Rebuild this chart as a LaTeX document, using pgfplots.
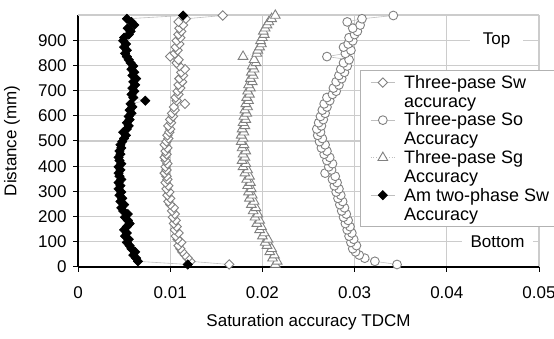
\documentclass[border=0pt]{standalone}
\usepackage{pgfplots}
\pgfplotsset{compat=1.18}
\usepackage{pgfplotstable}
\usepackage{fontspec}
\setmainfont{Liberation Sans}

\pgfplotstableread{
y sw so sg am
10 0.0164 0.0346 0.0214 0.0119
22.5 0.0122 0.0322 0.0216 0.0065
35 0.0119 0.0311 0.0211 0.0063
47.5 0.0116 0.0305 0.0213 0.0060
60 0.0113 0.0301 0.0208 0.0062
72.5 0.0111 0.0298 0.0210 0.0058
85 0.0109 0.0302 0.0205 0.0056
97.5 0.0112 0.0296 0.0203 0.0053
110 0.0108 0.0299 0.0206 0.0055
122.5 0.0106 0.0294 0.0200 0.0051
135 0.0109 0.0297 0.0202 0.0053
147.5 0.0105 0.0292 0.0197 0.0050
160 0.0107 0.0295 0.0199 0.0053
172.5 0.0104 0.0290 0.0194 0.0056
185 0.0106 0.0293 0.0197 0.0054
197.5 0.0103 0.0288 0.0192 0.0051
210 0.0105 0.0291 0.0195 0.0054
222.5 0.0102 0.0286 0.0190 0.0049
235 0.0104 0.0289 0.0193 0.0047
247.5 0.0100 0.0284 0.0188 0.0050
260 0.0098 0.0287 0.0191 0.0046
272.5 0.0100 0.0282 0.0186 0.0048
285 0.0097 0.0285 0.0189 0.0045
297.5 0.0099 0.0280 0.0185 0.0047
310 0.0096 0.0283 0.0188 0.0044
322.5 0.0098 0.0278 0.0184 0.0046
335 0.0095 0.0281 0.0187 0.0044
347.5 0.0097 0.0276 0.0183 0.0047
360 0.0096 0.0279 0.0186 0.0045
372.5 0.0094 0.0268 0.0181 0.0044
385 0.0096 0.0275 0.0184 0.0046
397.5 0.0095 0.0272 0.0179 0.0044
410 0.0097 0.0276 0.0182 0.0047
422.5 0.0095 0.0270 0.0178 0.0045
435 0.0094 0.0273 0.0181 0.0044
447.5 0.0096 0.0267 0.0179 0.0046
460 0.0095 0.0270 0.0182 0.0045
472.5 0.0097 0.0264 0.0178 0.0047
485 0.0094 0.0268 0.0180 0.0046
497.5 0.0096 0.0262 0.0177 0.0048
510 0.0098 0.0265 0.0179 0.0050
522.5 0.0097 0.0260 0.0177 0.0052
535 0.0099 0.0263 0.0180 0.0049
547.5 0.0100 0.0259 0.0178 0.0053
560 0.0098 0.0264 0.0181 0.0055
572.5 0.0101 0.0261 0.0179 0.0053
585 0.0100 0.0266 0.0182 0.0056
597.5 0.0103 0.0263 0.0180 0.0055
610 0.0102 0.0268 0.0183 0.0058
622.5 0.0105 0.0265 0.0181 0.0056
635 0.0104 0.0270 0.0184 0.0059
647.5 0.0116 0.0267 0.0182 0.0057
660 0.0107 0.0273 0.0185 0.0073
672.5 0.0106 0.0270 0.0183 0.0060
685 0.0109 0.0276 0.0186 0.0058
697.5 0.0108 0.0280 0.0184 0.0061
710 0.0111 0.0277 0.0187 0.0059
722.5 0.0109 0.0283 0.0185 0.0062
735 0.0113 0.0280 0.0189 0.0060
747.5 0.0110 0.0286 0.0187 0.0063
760 0.0114 0.0283 0.0190 0.0059
772.5 0.0112 0.0289 0.0188 0.0061
785 0.0116 0.0285 0.0191 0.0058
797.5 0.0110 0.0292 0.0189 0.0060
810 0.0107 0.0288 0.0193 0.0057
822.5 0.0109 0.0294 0.0191 0.0055
835 0.0100 0.0270 0.0179 0.0053
847.5 0.0105 0.0290 0.0194 0.0051
860 0.0108 0.0296 0.0195 0.0053
872.5 0.0106 0.0288 0.0197 0.0050
885 0.0110 0.0293 0.0199 0.0052
897.5 0.0107 0.0298 0.0198 0.0049
910 0.0111 0.0294 0.0200 0.0050
922.5 0.0109 0.0300 0.0202 0.0055
935 0.0112 0.0303 0.0201 0.0057
947.5 0.0110 0.0298 0.0203 0.0054
960 0.0114 0.0306 0.0205 0.0061
972.5 0.0109 0.0292 0.0207 0.0058
985 0.0117 0.0308 0.0210 0.0053
998 0.0157 0.0342 0.0214 0.0114
}\data

\begin{document}
\begin{tikzpicture}[font=\fontsize{17}{19}\selectfont]
\useasboundingbox (0,0) rectangle (554pt,339pt);
\begin{axis}[
  at={(78pt,72pt)}, anchor=south west,
  scale only axis, width=461pt, height=252pt,
  xmin=0, xmax=0.05, ymin=0, ymax=1000,
  scaled x ticks=false,
  axis x line*=bottom, axis y line*=left,
  axis line style={line width=1.4pt, black, -},
  xtick={0,0.01,0.02,0.03,0.04,0.05},
  xticklabels={0,0.01,0.02,0.03,0.04,0.05},
  ytick={0,100,200,300,400,500,600,700,800,900},
  yticklabels={0,100,200,300,400,500,600,700,800,900},
  extra y ticks={1000}, extra y tick labels={},
  extra y tick style={major tick length=0pt, grid=major},
  tick align=outside, major tick length=5pt,
  tick style={black, line width=1pt},
  grid=major, grid style={black!20, line width=1.1pt},
  tick label style={font=\fontsize{17}{19}\selectfont},
  xticklabel style={yshift=-11pt},
  yticklabel style={xshift=-3pt},
  xlabel={Saturation accuracy TDCM},
  ylabel={Distance (mm)},
  every axis x label/.style={at={(axis description cs:0.5,-0.22)}, anchor=center, font=\fontsize{17}{19}\selectfont},
  every axis y label/.style={at={(axis description cs:-0.143,0.5)}, rotate=90, anchor=center, font=\fontsize{17}{19}\selectfont},
  legend image code/.code={\draw[yshift=9.5pt, mark repeat=2,mark phase=2] plot coordinates {(0pt,0pt) (12pt,0pt) (24pt,0pt)};},
  legend style={at={(axis description cs:0.612,0.782)}, anchor=north west, draw=black!30, line width=0.8pt,
    font=\fontsize{18}{19}\selectfont, cells={align=left, anchor=west}, row sep=0pt, column sep=7pt,
    inner xsep=10pt, inner ysep=3pt},
  legend cell align=left,
  clip=false,
]
\addplot[draw=black!25, line width=0.6pt, mark=square*, mark size=3.3pt,
  mark options={solid, rotate=45, fill=white, draw=black!50, line width=0.9pt}] table[x=sw, y=y] {\data};
\addlegendentry{Three-pase Sw\\accuracy}
\addplot[draw=black!25, line width=0.6pt, mark=*, mark size=4.4pt,
  mark options={solid, fill=white, draw=black!50, line width=0.9pt}] table[x=so, y=y] {\data};
\addlegendentry{Three-pase So\\Accuracy}
\addplot[draw=black!25, line width=0.6pt, dotted, mark=triangle*, mark size=5.6pt,
  mark options={solid, fill=white, draw=black!50, line width=0.9pt}] table[x=sg, y=y] {\data};
\addlegendentry{Three-pase Sg\\Accuracy}
\addplot[draw=black!25, line width=0.6pt, mark=square*, mark size=3.3pt,
  mark options={solid, rotate=45, fill=black, draw=black, line width=0.6pt}] table[x=am, y=y] {\data};
\addlegendentry{Am two-phase Sw\\Accuracy}
\node[fill=white, inner xsep=13pt, inner ysep=2pt] at (axis cs:0.0454,900) {Top};
\node[fill=white, inner xsep=9pt, inner ysep=2pt] at (axis cs:0.0455,100) {Bottom};
\end{axis}
\end{tikzpicture}
\end{document}
